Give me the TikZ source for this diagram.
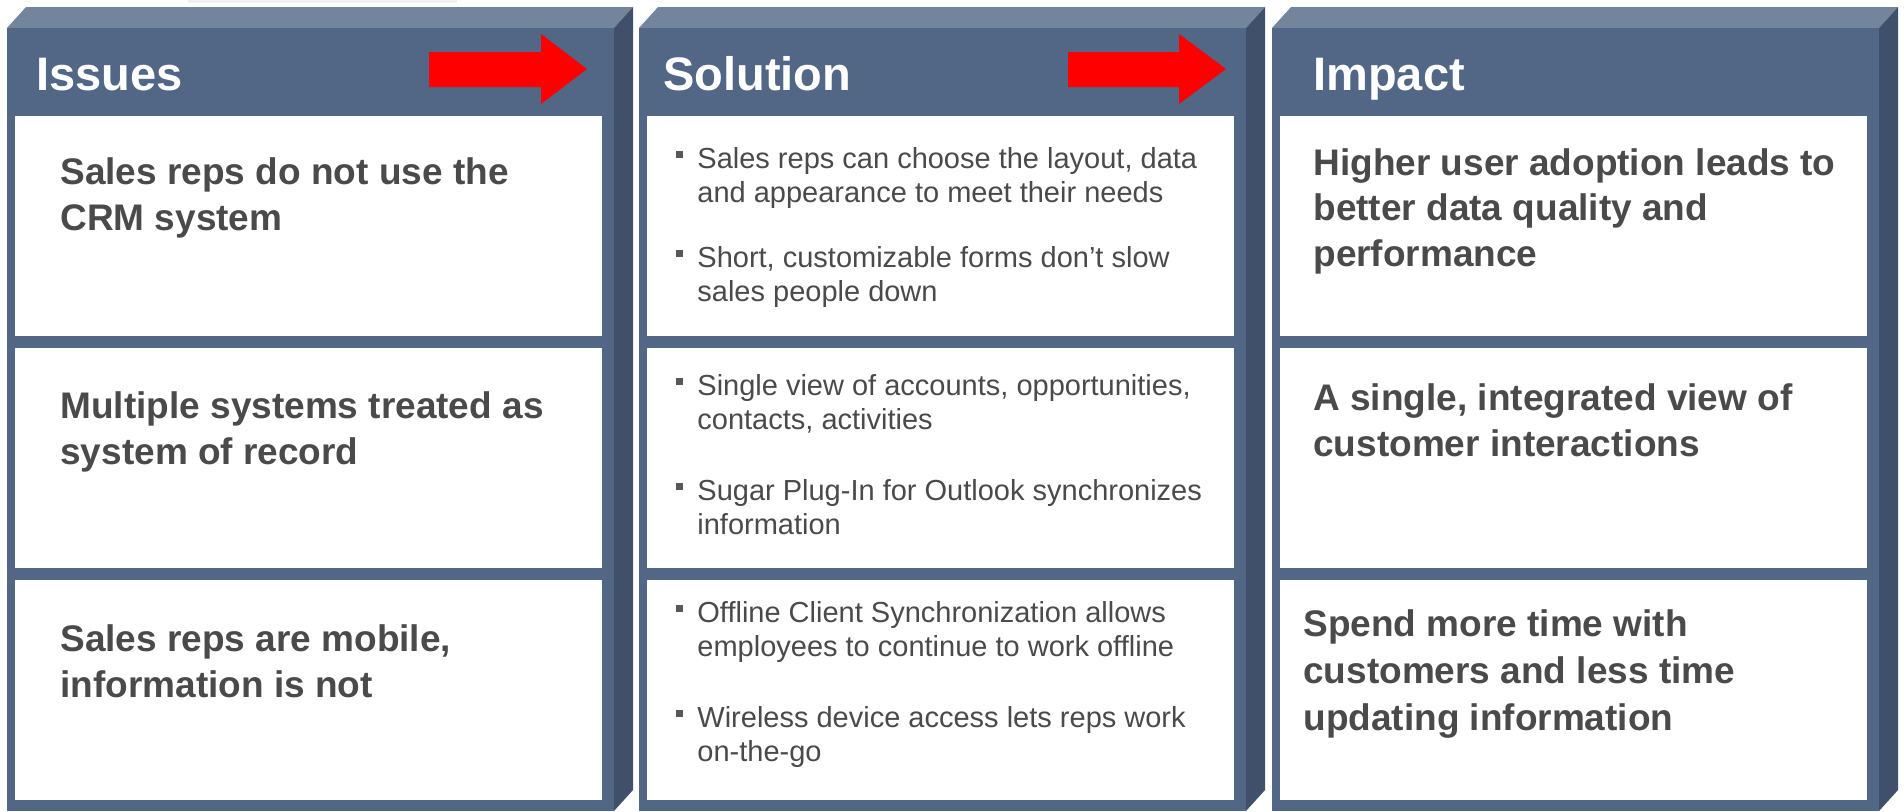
\documentclass[tikz,border=0pt]{standalone}
\usepackage{fontspec}
\setmainfont{Liberation Sans}
\usepackage{xcolor}
\usetikzlibrary{positioning}

\definecolor{panelfront}{RGB}{82,102,133}
\definecolor{paneltop}{RGB}{115,132,157}
\definecolor{panelside}{RGB}{64,80,106}
\definecolor{bodytext}{RGB}{74,74,74}
\definecolor{bulletgray}{RGB}{88,88,88}

\tikzset{
  paneltitle/.style={anchor=base west, inner sep=0pt, text=white, font=\fontsize{23.5}{28}\selectfont\bfseries},
  keypoint/.style={anchor=base west, inner sep=0pt, align=left, text=bodytext, font=\fontsize{18.5}{22.75}\selectfont\bfseries},
  bulletpt/.style={anchor=base west, inner sep=0pt, align=left, text=bodytext, font=\fontsize{14.5}{17}\selectfont},
  flowarrow/.style={fill=red},
}
\newcommand{\sqbullet}{\llap{\textcolor{bulletgray}{\rule[5.25pt]{3.5pt}{3.5pt}}\hspace{7pt}}}

\begin{document}
\begin{tikzpicture}[x=0.5pt, y=-0.5pt]
    \useasboundingbox (0,0) rectangle (1904,811);
    \fill[gray!12] (188,0) rectangle (457,3);

    % the three columns
    \foreach \L in {7, 639, 1272} {
        \fill[paneltop] (\L,28) -- (\L+607,28) -- (\L+626,7) -- (\L+19,7) -- cycle;
        \fill[panelside] (\L+607,28) -- (\L+626,7) -- (\L+626,790) -- (\L+607,811) -- cycle;
        \fill[panelfront] (\L,28) rectangle (\L+607,811);
        \foreach \rowy in {116, 348, 580}
            \fill[white] (\L+8,\rowy) rectangle (\L+595,\rowy+220);
    }

    \node[paneltitle] (isstitle) at (36,90) {Issues};
    \node[paneltitle] (soltitle) at (663,90) {Solution};
    \node[paneltitle] (imptitle) at (1313,90) {Impact};

    \fill[flowarrow] (429,52) -- (541,52) -- (541,34) -- (587,69) -- (541,104) -- (541,87) -- (429,87) -- cycle;
    \fill[flowarrow] (1068,52) -- (1179,52) -- (1179,34) -- (1226,69) -- (1179,104) -- (1179,87) -- (1068,87) -- cycle;

    % issues (y = baseline of last line)
    \node[keypoint] (iss1) at (60,230) {Sales reps do not use the\\CRM system};
    \node[keypoint] (iss2) at (60,464) {Multiple systems treated as\\system of record};
    \node[keypoint] (iss3) at (60,697) {Sales reps are mobile,\\information is not};

    % solution
    \node[bulletpt] (sol1a) at (697,202) {\sqbullet Sales reps can choose the layout, data\\and appearance to meet their needs};
    \node[bulletpt] (sol1b) at (697,301) {\sqbullet Short, customizable forms don’t slow\\sales people down};
    \node[bulletpt] (sol2a) at (697,429) {\sqbullet Single view of accounts, opportunities,\\contacts, activities};
    \node[bulletpt] (sol2b) at (697,534) {\sqbullet Sugar Plug-In for Outlook synchronizes\\information};
    \node[bulletpt] (sol3a) at (697,656) {\sqbullet Offline Client Synchronization allows\\employees to continue to work offline};
    \node[bulletpt] (sol3b) at (697,761) {\sqbullet Wireless device access lets reps work\\on-the-go};

    % impact
    \node[keypoint] (imp1) at (1313,266) {Higher user adoption leads to\\better data quality and\\performance};
    \node[keypoint] (imp2) at (1313,456) {A single, integrated view of\\customer interactions};
    \node[keypoint, font=\fontsize{18.5}{23.5}\selectfont\bfseries] (imp3) at (1303,730) {Spend more time with\\customers and less time\\updating information};
\end{tikzpicture}
\end{document}
